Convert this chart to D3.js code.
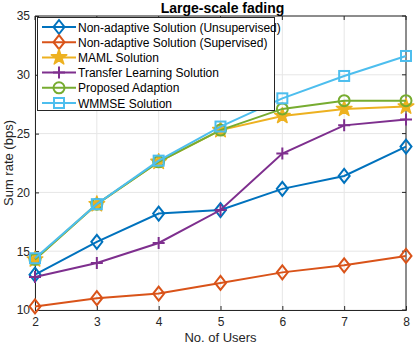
<!DOCTYPE html>
<html>
<head>
<meta charset="utf-8">
<script src="https://cdn.jsdelivr.net/npm/d3@7"></script>
<style>
  body { margin: 0; background: #fff; }
  svg { font-family: "Liberation Sans", Arial, sans-serif; }
</style>
</head>
<body>
<div id="chart"></div>
<script>
const users = [2, 3, 4, 5, 6, 7, 8];
const unsupervised = [13.0, 15.8, 18.2, 18.5, 20.3, 21.4, 23.9];
const supervised = [10.3, 11.0, 11.4, 12.3, 13.2, 13.8, 14.6];
const maml = [14.3, 19.0, 22.6, 25.3, 26.5, 27.1, 27.3];
const transfer = [12.8, 14.0, 15.7, 18.5, 23.3, 25.7, 26.2];
const proposed = [14.3, 19.0, 22.6, 25.3, 27.1, 27.8, 27.8];
const wmmse = [14.4, 19.0, 22.7, 25.6, 28.0, 29.9, 31.6];
const yTicks = [10, 15, 20, 25, 30, 35];

const series = [
    { name: 'Non-adaptive Solution (Unsupervised)', values: unsupervised, color: '#0072BD', marker: 'diamond' },
    { name: 'Non-adaptive Solution (Supervised)', values: supervised, color: '#D95319', marker: 'diamond' },
    { name: 'MAML Solution', values: maml, color: '#EDB120', marker: 'star' },
    { name: 'Transfer Learning Solution', values: transfer, color: '#7E2F8E', marker: 'plus' },
    { name: 'Proposed Adaption', values: proposed, color: '#77AC30', marker: 'circle' },
    { name: 'WMMSE Solution', values: wmmse, color: '#4DBEEE', marker: 'square' }
];

const width = 415, height = 346;
const margin = { left: 35, right: 9, top: 16, bottom: 36 };

const svg = d3.select('#chart').append('svg')
    .attr('width', width)
    .attr('height', height);

const x = d3.scaleLinear().domain([2, 8]).range([margin.left, width - margin.right]);
const y = d3.scaleLinear().domain([10, 35]).range([height - margin.bottom, margin.top]);

// grid
svg.append('g').selectAll('line')
    .data(users).enter().append('line')
    .attr('x1', d => x(d)).attr('x2', d => x(d))
    .attr('y1', y(10)).attr('y2', y(35))
    .attr('stroke', '#e6e6e6').attr('stroke-width', 1);
svg.append('g').selectAll('line')
    .data(yTicks).enter().append('line')
    .attr('x1', x(2)).attr('x2', x(8))
    .attr('y1', d => y(d)).attr('y2', d => y(d))
    .attr('stroke', '#e6e6e6').attr('stroke-width', 1);

// axes
const xAxis = svg.append('g')
    .attr('transform', `translate(0,${y(10)})`)
    .call(d3.axisBottom(x).tickValues(users).tickSize(-4).tickPadding(7).tickFormat(d3.format('d')));
const yAxis = svg.append('g')
    .attr('transform', `translate(${x(2)},0)`)
    .call(d3.axisLeft(y).tickValues(yTicks).tickSize(-4).tickPadding(5));
[xAxis, yAxis].forEach(a => {
    a.select('.domain').attr('stroke', '#262626');
    a.selectAll('.tick line').attr('stroke', '#262626');
    a.selectAll('.tick text').attr('fill', '#262626').style('font-size', '12px')
        .style('font-family', '"Liberation Sans", Arial, sans-serif');
});
// top/right box
svg.append('line').attr('x1', x(2)).attr('x2', x(8)).attr('y1', y(35)).attr('y2', y(35)).attr('stroke', '#262626');
svg.append('line').attr('x1', x(8)).attr('x2', x(8)).attr('y1', y(35)).attr('y2', y(10)).attr('stroke', '#262626');
svg.append('g').selectAll('line')
    .data(users).enter().append('line')
    .attr('x1', d => x(d)).attr('x2', d => x(d))
    .attr('y1', y(35)).attr('y2', y(35) + 4).attr('stroke', '#262626');
svg.append('g').selectAll('line')
    .data(yTicks).enter().append('line')
    .attr('x1', x(8)).attr('x2', x(8) - 4)
    .attr('y1', d => y(d)).attr('y2', d => y(d)).attr('stroke', '#262626');

// labels
svg.append('text')
    .attr('x', (x(2) + x(8)) / 2 + 2).attr('y', 13)
    .attr('text-anchor', 'middle')
    .style('font-size', '14px').style('font-weight', 'bold')
    .attr('fill', '#000')
    .text('Large-scale fading');
svg.append('text')
    .attr('x', (x(2) + x(8)) / 2).attr('y', 342)
    .attr('text-anchor', 'middle')
    .style('font-size', '13px').attr('fill', '#262626')
    .text('No. of Users');
svg.append('text')
    .attr('transform', `translate(13,${(y(10) + y(35)) / 2}) rotate(-90)`)
    .attr('text-anchor', 'middle')
    .style('font-size', '13px').attr('fill', '#262626')
    .text('Sum rate (bps)');

function drawMarker(g, type, cx, cy, color) {
    if (type === 'diamond') {
        g.append('path').attr('d', `M${cx},${cy - 7}L${cx + 5.5},${cy}L${cx},${cy + 7}L${cx - 5.5},${cy}Z`)
            .attr('fill', 'none').attr('stroke', color).attr('stroke-width', 2);
    } else if (type === 'circle') {
        g.append('circle').attr('cx', cx).attr('cy', cy).attr('r', 5.5)
            .attr('fill', 'none').attr('stroke', color).attr('stroke-width', 2);
    } else if (type === 'square') {
        g.append('rect').attr('x', cx - 5).attr('y', cy - 5).attr('width', 10).attr('height', 10)
            .attr('fill', 'none').attr('stroke', color).attr('stroke-width', 2);
    } else if (type === 'plus') {
        g.append('path').attr('d', `M${cx - 6},${cy}H${cx + 6}M${cx},${cy - 6}V${cy + 6}`)
            .attr('fill', 'none').attr('stroke', color).attr('stroke-width', 2);
    } else if (type === 'star') {
        const star = d3.symbol().type(d3.symbolStar).size(75);
        g.append('path').attr('d', star()).attr('transform', `translate(${cx},${cy})`)
            .attr('fill', color).attr('stroke', color).attr('stroke-width', 1.5).attr('stroke-linejoin', 'round');
    }
}

const line = d3.line().x((d, i) => x(users[i])).y(d => y(d));

series.forEach(s => {
    const g = svg.append('g');
    g.append('path').datum(s.values)
        .attr('d', line)
        .attr('fill', 'none').attr('stroke', s.color).attr('stroke-width', 2);
    s.values.forEach((v, i) => drawMarker(g, s.marker, x(users[i]), y(v), s.color));
});

// legend
const lg = svg.append('g');
lg.append('rect').attr('x', 37.5).attr('y', 17.5).attr('width', 237).attr('height', 93)
    .attr('fill', '#fff').attr('stroke', '#262626').attr('stroke-width', 1);
series.forEach((s, i) => {
    const ly = 27 + i * 15.2;
    lg.append('line').attr('x1', 42).attr('x2', 76).attr('y1', ly).attr('y2', ly)
        .attr('stroke', s.color).attr('stroke-width', 2);
    drawMarker(lg, s.marker, 59, ly, s.color);
    lg.append('text').attr('x', 78).attr('y', ly + 4.5)
        .style('font-size', '12px').attr('fill', '#000')
        .text(s.name);
});
</script>
</body>
</html>
